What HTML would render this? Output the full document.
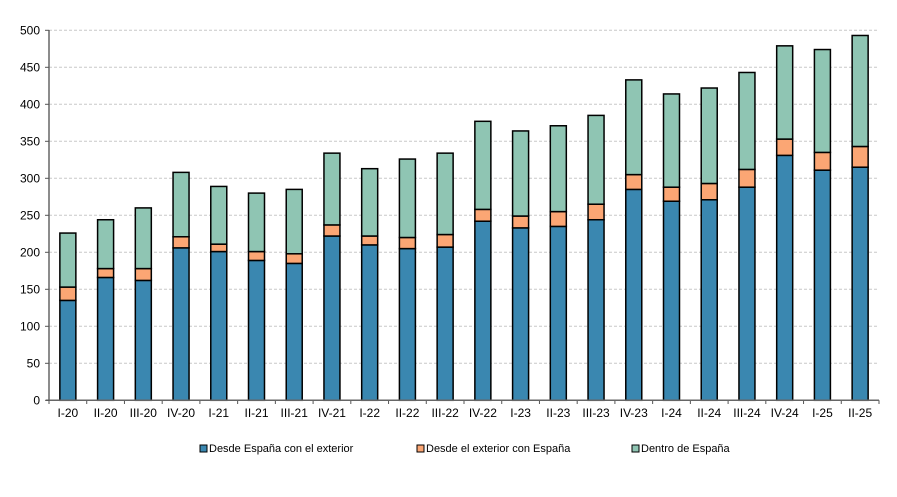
<!DOCTYPE html>
<html><head><meta charset="utf-8"><style>
body{margin:0;background:#fff;}
svg{display:block;font-family:"Liberation Sans",Arial,sans-serif;}
</style></head><body>
<svg width="897" height="497" viewBox="0 0 897 497" xmlns="http://www.w3.org/2000/svg">
<g id="grid" stroke="#c8c8c8" stroke-dasharray="3,2" stroke-width="1"></g>
<g id="bars"></g>
<g id="axes"></g>
<g font-size="11" fill="#000">
<rect x="200" y="445" width="7" height="7" fill="#3a87b0" stroke="#000"/>
<text x="209" y="452">Desde España con el exterior</text>
<rect x="417" y="445" width="7" height="7" fill="#fba674" stroke="#000"/>
<text x="426" y="452">Desde el exterior con España</text>
<rect x="632" y="445" width="7" height="7" fill="#8fc5b3" stroke="#000"/>
<text x="641" y="452">Dentro de España</text>
</g>
<script>
const ns="http://www.w3.org/2000/svg";
function el(p,t,a,txt){const e=document.createElementNS(ns,t);for(const k in a)e.setAttribute(k,a[k]);if(txt!=null)e.textContent=txt;document.getElementById(p).appendChild(e);return e;}
const y=v=>400.3-v*0.74;
for(let v=50;v<=500;v+=50)el('grid','line',{x1:49,x2:879,y1:y(v),y2:y(v)});
const d=[["I-20",135,153,226],["II-20",166,178,244],["III-20",162,178,260],["IV-20",206,221,308],["I-21",201,211,289],["II-21",189,201,280],["III-21",185,198,285],["IV-21",222,237,334],["I-22",210,222,313],["II-22",205,220,326],["III-22",207,224,334],["IV-22",242,258,377],["I-23",233,249,364],["II-23",235,255,371],["III-23",244,265,385],["IV-23",285,305,433],["I-24",269,288,414],["II-24",271,293,422],["III-24",288,312,443],["IV-24",331,353,479],["I-25",311,335,474],["II-25",315,343,493]];
const sp=(879-49)/22;
d.forEach((r,i)=>{const cx=49+sp*(i+0.5),x=cx-8;
 el('bars','rect',{x:x,y:y(r[1]),width:16,height:y(0)-y(r[1]),fill:'#3a87b0',stroke:'#000','stroke-width':1.5});
 el('bars','rect',{x:x,y:y(r[2]),width:16,height:y(r[1])-y(r[2]),fill:'#fba674',stroke:'#000','stroke-width':1.5});
 el('bars','rect',{x:x,y:y(r[3]),width:16,height:y(r[2])-y(r[3]),fill:'#8fc5b3',stroke:'#000','stroke-width':1.5});
 el('axes','text',{x:cx,y:417,'font-size':12,'text-anchor':'middle'},r[0]);
 el('axes','line',{x1:cx+sp/2,x2:cx+sp/2,y1:400.3,y2:404,stroke:'#555'});
});
el('axes','line',{x1:49,x2:49,y1:30,y2:400.3,stroke:'#666','stroke-width':1.5});
el('axes','line',{x1:46,x2:879,y1:400.3,y2:400.3,stroke:'#666','stroke-width':1.5});
el('axes','line',{x1:49,x2:49,y1:400,y2:404,stroke:'#555'});
for(let v=0;v<=500;v+=50){el('axes','line',{x1:45,x2:49,y1:y(v),y2:y(v),stroke:'#555'});
 el('axes','text',{x:40,y:y(v)+4,'font-size':12,'text-anchor':'end'},v);}
</script>
</svg>
</body></html>
